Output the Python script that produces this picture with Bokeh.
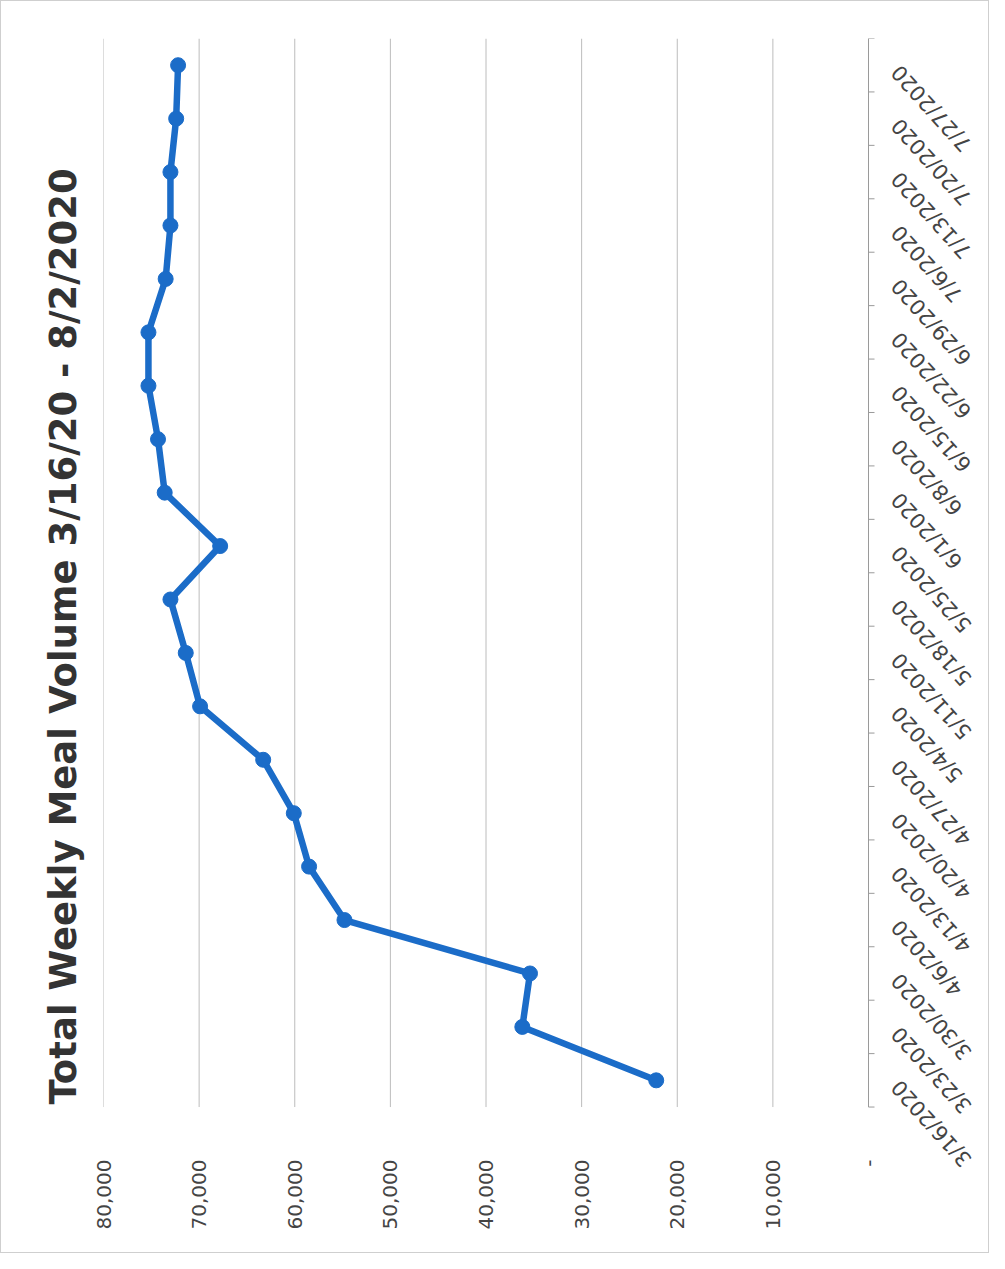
import numpy as np
from bokeh.plotting import figure
from bokeh.models import Range1d, FixedTicker, CustomJSTickFormatter, ColumnDataSource
from bokeh.embed import file_html
from bokeh.resources import INLINE

# ---- data ----
weeks = ["3/16/2020", "3/23/2020", "3/30/2020", "4/6/2020", "4/13/2020",
         "4/20/2020", "4/27/2020", "5/4/2020", "5/11/2020", "5/18/2020",
         "5/25/2020", "6/1/2020", "6/8/2020", "6/15/2020", "6/22/2020",
         "6/29/2020", "7/6/2020", "7/13/2020", "7/20/2020", "7/27/2020"]
meals = [22200, 36200, 35400, 54800, 58500, 60100, 63300, 69900, 71400, 73000,
         67800, 73600, 74300, 75300, 75300, 73500, 73000, 73000, 72400, 72200]
value_ticks = [0, 10000, 20000, 30000, 40000, 50000, 60000, 70000, 80000]
title_text = "Total Weekly Meal Volume 3/16/20 - 8/2/2020"

n = len(weeks)
pos = list(range(n))
bounds = [i - 0.5 for i in range(n + 1)]          # category edges (tick marks)
src = ColumnDataSource(data=dict(week=weeks, pos=pos, meals=meals, zero=[0] * n))

LINE_BLUE = "#1b6cc8"
GRID = "#bcbcbc"
AXIS = "#9a9a9a"
LABEL = "#444444"

# frame is widened past 0 and below the first week so the date labels fit inside it
p = figure(width=989, height=1253, output_backend="svg", toolbar_location=None,
           x_range=Range1d(80000, -12235), y_range=Range1d(-1.8, n - 0.5),
           x_axis_location="below", y_axis_location=None,
           title=title_text, title_location="left",
           min_border_left=102, min_border_right=5,
           min_border_top=37, min_border_bottom=78)

p.outline_line_color = None
p.background_fill_color = "white"
p.border_fill_color = "white"
p.styles = {"border": "1px solid #cfcfcf"}

p.title.text_font = "DejaVu Sans"
p.title.text_font_size = "37px"
p.title.text_font_style = "bold"
p.title.text_color = "#333333"
p.title.align = "left"
p.title.standoff = 38
p.title.offset = 72

p.xgrid.visible = False
p.ygrid.visible = False

# value gridlines across the week band
p.segment(x0=value_ticks, y0=[bounds[0]] * len(value_ticks),
          x1=value_ticks, y1=[bounds[-1]] * len(value_ticks),
          line_color=GRID, line_width=1)

# value axis (below)
xa = p.xaxis[0]
xa.ticker = FixedTicker(ticks=value_ticks)
xa.formatter = CustomJSTickFormatter(code="return tick == 0 ? '-' : tick.toLocaleString('en-US');")
xa.major_label_orientation = np.pi / 2
xa.axis_line_color = None
xa.major_tick_line_color = None
xa.minor_tick_line_color = None
xa.major_label_standoff = -23
xa.major_label_text_font = "DejaVu Sans"
xa.major_label_text_font_size = "20px"
xa.major_label_text_color = LABEL

# week axis at value 0: line, tick marks between weeks, labels
p.segment(x0=[0], y0=[bounds[0]], x1=[0], y1=[bounds[-1]], line_color=AXIS, line_width=1)
p.ray(x=[0] * len(bounds), y=bounds, length=6, length_units="screen", angle=0,
      line_color=AXIS, line_width=1)
p.text(x="zero", y="pos", text="week", source=src,
       angle=np.deg2rad(132), text_align="right", text_baseline="middle",
       x_offset=27, y_offset=3,
       text_font={"value": "DejaVu Sans"}, text_font_size="21px", text_color=LABEL)

p.line("meals", "pos", source=src, line_width=6.5, line_color=LINE_BLUE, line_join="round")
p.scatter("meals", "pos", source=src, size=15, fill_color=LINE_BLUE, line_color=LINE_BLUE)

open("out.html", "w").write(file_html(p, INLINE))
